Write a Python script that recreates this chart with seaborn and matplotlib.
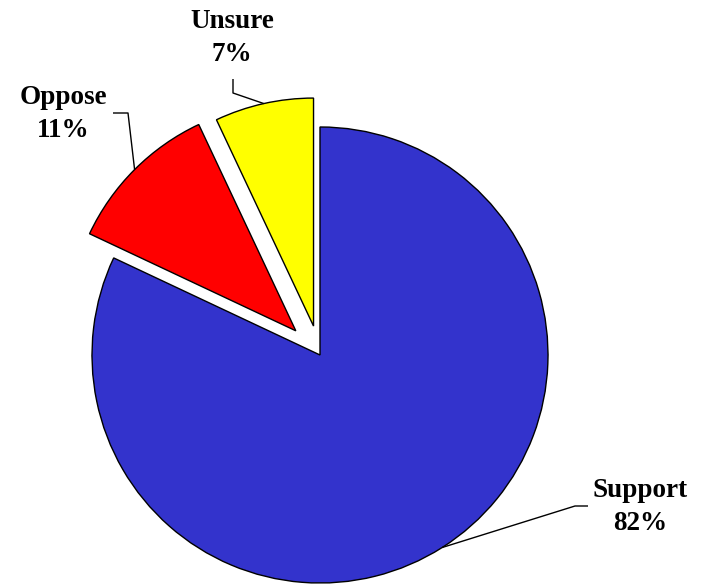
import numpy as np
import matplotlib
matplotlib.use("Agg")
import matplotlib.pyplot as plt
import seaborn as sns

categories = ["Support", "Oppose", "Unsure"]
values = [82, 11, 7]
colors = ["#3333CC", "#FF0000", "#FFFF00"]
explode = [0.0, 0.15, 0.13]

sns.set_theme(style="white")
plt.rcParams["font.family"] = ["Liberation Serif", "DejaVu Serif"]

W, H = 705, 584
fig = plt.figure(figsize=(W / 100, H / 100), dpi=100)
ax = fig.add_axes([0, 0, 1, 1])

center = (320, H - 355)
radius = 228
wedges, _ = ax.pie(values, colors=colors, explode=[e * radius for e in explode],
                   startangle=90, counterclock=False, center=center, radius=radius,
                   wedgeprops=dict(edgecolor="black", linewidth=1.0),
                   frame=True)
ax.set_xlim(0, W)
ax.set_ylim(0, H)
ax.set_aspect("equal")
ax.axis("off")

# label text centers and leader elbow points (pixel coords, y up)
label_pos = {"Support": (640, H - 507), "Oppose": (63, H - 114), "Unsure": (232, H - 38)}
elbows = {
    "Support": [(588, H - 506), (575, H - 506)],
    "Oppose": [(113, H - 113), (128, H - 113)],
    "Unsure": [(233, H - 79), (233, H - 93)],
}

total = sum(values)
for w, cat, v in zip(wedges, categories, values):
    mid = np.deg2rad((w.theta1 + w.theta2) / 2)
    cx, cy = w.center
    ax_pt = (cx + w.r * np.cos(mid), cy + w.r * np.sin(mid))
    pts = elbows[cat] + [ax_pt]
    xs, ys = zip(*pts)
    ax.plot(xs, ys, color="black", lw=1.0, solid_capstyle="butt")
    tx, ty = label_pos[cat]
    ax.text(tx, ty, f"{cat}\n{round(100 * v / total)}%", ha="center", va="center",
            fontsize=19.5, fontweight="bold", linespacing=1.45, color="black")

fig.savefig("out.png", dpi=100)
